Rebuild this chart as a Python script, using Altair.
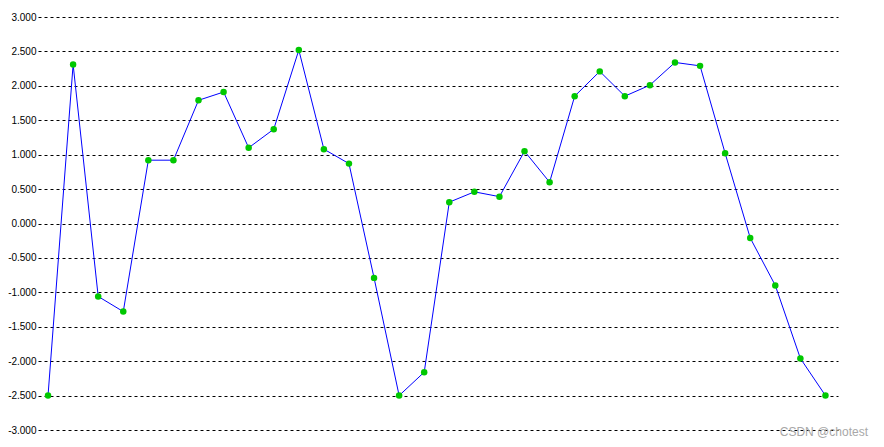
import altair as alt
import pandas as pd

x_index = list(range(1, 33))
values = [-2.50, 2.31, -1.06, -1.28, 0.92, 0.92, 1.79, 1.91, 1.10, 1.37, 2.52, 1.08,
          0.87, -0.79, -2.50, -2.16, 0.31, 0.46, 0.39, 1.05, 0.60, 1.85, 2.21, 1.85,
          2.01, 2.34, 2.29, 1.02, -0.21, -0.90, -1.96, -2.50]
y_ticks = [-3.0, -2.5, -2.0, -1.5, -1.0, -0.5, 0.0, 0.5, 1.0, 1.5, 2.0, 2.5, 3.0]
watermark = ["CSDN @chotest"]

df = pd.DataFrame({"x": x_index, "y": values})

base = alt.Chart(df).encode(
    x=alt.X("x:Q", scale=alt.Scale(domain=[0.6, 32.5], nice=False, zero=False), axis=None),
    y=alt.Y(
        "y:Q",
        scale=alt.Scale(domain=[-3, 3], nice=False, zero=False),
        axis=alt.Axis(
            values=y_ticks,
            title=None,
            domain=False,
            ticks=False,
            grid=True,
            gridColor="#000000",
            gridOpacity=1,
            gridWidth=1,
            gridDash=[3, 3],
            labelExpr="replace(format(datum.value, '.3f'), '\u2212', '-')",
            labelFont="Liberation Sans",
            labelFontSize=10,
            labelColor="#000000",
            labelPadding=2,
        ),
    ),
)

line = base.mark_line(color="#0000ff", strokeWidth=1)
pts = base.mark_point(filled=True, shape="circle", size=42, color="#00c800", opacity=1)

wm = alt.Chart(pd.DataFrame({"t": watermark})).mark_text(
    font="Liberation Sans", fontSize=12, color="#a8a8a8", align="right", baseline="middle"
).encode(text="t:N", x=alt.value(830), y=alt.value(415))

chart = alt.layer(line, pts, wm).properties(
    width=800,
    height=413,
    autosize=alt.AutoSizeParams(type="none"),
    padding={"left": 30, "top": 9, "right": 38, "bottom": 9},
).configure_view(stroke=None)

chart.save("out.html", embed_options={"renderer": "svg", "actions": False})
